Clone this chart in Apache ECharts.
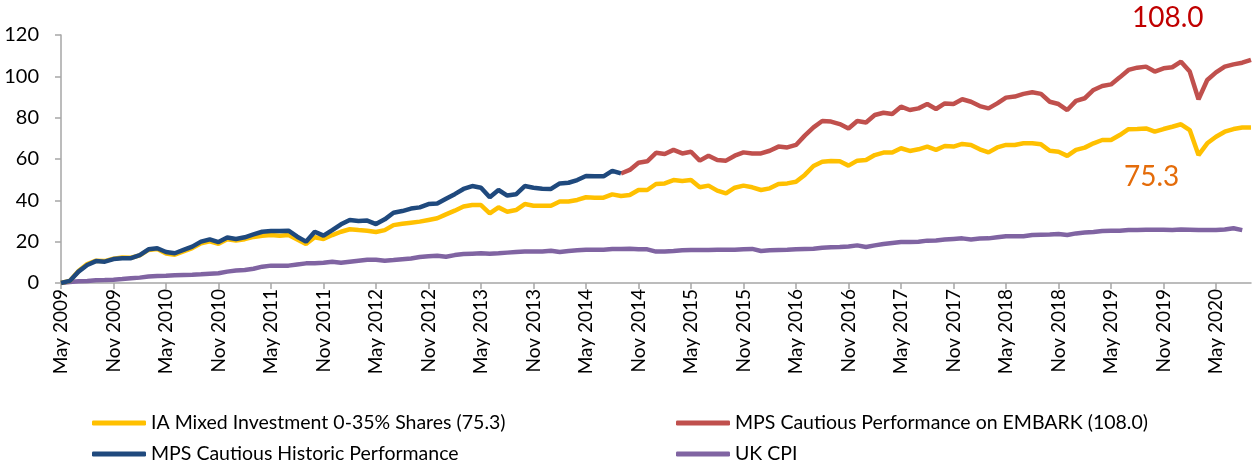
<!DOCTYPE html>
<html>
<head>
<meta charset="utf-8">
<script src="https://cdn.jsdelivr.net/npm/echarts@6/dist/echarts.min.js"></script>
<style>
html,body{margin:0;padding:0;background:#fff;}
#c{width:1259px;height:464px;}
</style>
</head>
<body>
<div id="c"></div>
<script>
// Monthly categories May 2009 .. Sep 2020
var monthNames = ['Jan','Feb','Mar','Apr','May','Jun','Jul','Aug','Sep','Oct','Nov','Dec'];
var categories = [];
(function(){ var y=2009, m=4; while(!(y===2020 && m===9)){ categories.push(monthNames[m]+' '+y); m++; if(m===12){m=0;y++;} } })();

var yTicks = [0,20,40,60,80,100,120];

var iaMixed = [
0,1,5.8,9.2,10.8,10.6,11.8,12.3,12.2,13.4,16,16.4,14.3,13.7,15.3,16.9,19.2,20.2,19,21.2,20.6,21.2,22.3,22.9,
23.2,22.9,23.2,21.1,18.9,22.1,21.3,23.2,24.8,26,25.6,25.3,24.7,25.6,28,28.7,29.2,29.7,30.5,31.3,33.2,35,37,
37.7,37.7,33.7,36.6,34.5,35.3,38.2,37.4,37.4,37.4,39.4,39.4,40.2,41.5,41.3,41.3,42.9,42.1,42.6,45,45,47.9,48.2,
49.8,49.4,49.8,46.3,47.1,44.7,43.4,46.1,47.1,46.3,45,45.8,47.9,48.2,49,52.3,56.6,58.7,59,58.9,56.8,59.2,59.5,
61.9,63.1,63.1,65.2,63.9,64.7,66,64.4,66.3,66,67.3,66.8,64.7,63.2,65.6,66.8,66.8,67.6,67.6,67.1,64,63.5,61.5,
64.4,65.5,67.6,69.2,69.2,71.6,74.4,74.5,74.8,73.2,74.5,75.6,76.8,74,61.9,67.6,70.8,73.2,74.5,75.2,75.3
];

var mpsHistoric = [
0,1,5.5,8.7,10.6,10.3,11.6,12,12,13.5,16.3,16.8,15,14.4,16,17.6,20,21.1,19.8,22,21.3,22.1,23.5,24.8,
25.2,25.2,25.3,22.4,20,24.8,22.9,25.6,28.4,30.5,30,30.2,28.5,30.8,34,34.8,36,36.6,38.2,38.5,40.8,43,45.5,
46.9,46.1,41.5,45,42.3,42.9,46.9,46.1,45.6,45.5,48.2,48.5,49.8,51.8,51.6,51.6,54.3,53
];

var mpsEmbarkStart = 64;
var mpsEmbark = [
53,54.7,58.2,58.9,63,62.4,64.4,62.7,63.5,59.2,61.6,59.5,59.2,61.6,63.2,62.7,62.7,64,66,65.6,66.8,71.3,75.3,78.4,
78.1,76.9,74.8,78.4,77.7,81.3,82.4,81.8,85.3,83.7,84.5,86.6,84.2,86.9,86.6,88.9,87.7,85.6,84.5,86.9,89.7,90.2,
91.5,92.3,91.5,87.7,86.6,83.7,88.1,89.4,93.4,95.3,96.1,99.5,103.1,104.2,104.7,102.3,103.9,104.4,107.1,102.3,88.9,
98.2,101.9,104.7,105.8,106.6,108.0
];

var ukCpi = [
0,0.5,0.8,1,1.3,1.4,1.6,1.9,2.3,2.6,3.1,3.4,3.5,3.7,3.9,4,4.2,4.5,4.7,5.5,6,6.3,6.9,7.9,
8.4,8.4,8.4,9,9.5,9.6,9.8,10.3,9.8,10.3,10.8,11.3,11.3,10.8,11.1,11.5,11.9,12.6,12.9,13.2,12.7,13.5,14,
14.2,14.4,14.2,14.4,14.7,15,15.2,15.3,15.2,15.6,15,15.5,15.8,16.1,16.1,16.1,16.5,16.5,16.6,16.3,16.3,15.2,15.3,
15.5,15.8,16,16,16,16.1,16.1,16.1,16.3,16.5,15.5,15.8,16,16.1,16.3,16.5,16.6,17.1,17.3,17.4,17.7,18.2,17.4,
18.2,18.9,19.4,19.8,19.8,20,20.5,20.6,21,21.3,21.6,21.1,21.5,21.6,22.1,22.6,22.6,22.6,23.2,23.4,23.5,23.7,23.2,
24,24.4,24.7,25.2,25.3,25.3,25.6,25.6,25.8,25.8,25.8,25.6,25.9,25.8,25.6,25.6,25.6,25.9,26.5,25.6
];

var names = {
  ia: 'IA Mixed Investment 0-35% Shares (75.3)',
  emb: 'MPS Cautious Performance on EMBARK (108.0)',
  hist: 'MPS Cautious Historic Performance',
  cpi: 'UK CPI'
};
var labelEmbark = '108.0';
var labelIa = '75.3';

function pad(arr, start, total){
  var out = [];
  for (var i=0;i<total;i++){
    var j = i-start;
    out.push(j>=0 && j<arr.length ? arr[j] : null);
  }
  return out;
}
var N = categories.length;

var FONT = 'Lato';
var chart = echarts.init(document.getElementById('c'), null, {renderer:'canvas'});
var legendText = {color:'#000', fontSize:19.5, fontFamily:FONT, lineHeight:24};
function leg(left, top, name){
  return {orient:'horizontal', left:left, top:top, padding:0, itemWidth:54, itemHeight:5, itemGap:0,
    icon:'roundRect', textStyle:legendText, data:[name]};
}
var LW = 4.5;
chart.setOption({
  animation:false,
  backgroundColor:'#fff',
  grid:{left:61, right:8, top:35, bottom:181, containLabel:false},
  xAxis:{
    type:'category', data:categories, boundaryGap:false,
    axisLine:{lineStyle:{color:'#A6A6A6', width:1.5}},
    axisTick:{show:true, interval:5, length:6, lineStyle:{color:'#A6A6A6', width:1.5}},
    axisLabel:{interval:5, rotate:90, color:'#000', fontSize:19, fontFamily:FONT, margin:6}
  },
  yAxis:{
    type:'value', min:0, max:120, interval:20,
    splitLine:{show:false},
    axisLine:{show:true, lineStyle:{color:'#A6A6A6', width:1.5}},
    axisTick:{show:true, length:6, lineStyle:{color:'#A6A6A6', width:1.5}},
    axisLabel:{color:'#000', fontSize:20, fontFamily:FONT, margin:22,
      formatter:function(v){ return yTicks.indexOf(v)>=0 ? String(v) : ''; }}
  },
  legend:[
    leg(92, 411, names.ia),
    leg(676, 411, names.emb),
    leg(92, 442, names.hist),
    leg(676, 442, names.cpi)
  ],
  series:[
    {name:names.cpi, type:'line', data:pad(ukCpi,0,N), showSymbol:false, symbol:'none', z:1,
     lineStyle:{color:'#8064A2', width:LW}, itemStyle:{color:'#8064A2'}},
    {name:names.ia, type:'line', data:pad(iaMixed,0,N), showSymbol:false, symbol:'none', z:2,
     lineStyle:{color:'#FFC000', width:LW}, itemStyle:{color:'#FFC000'}},
    {name:names.emb, type:'line', data:pad(mpsEmbark,mpsEmbarkStart,N), showSymbol:false, symbol:'none', z:3,
     lineStyle:{color:'#C0504D', width:LW}, itemStyle:{color:'#C0504D'}},
    {name:names.hist, type:'line', data:pad(mpsHistoric,0,N), showSymbol:false, symbol:'none', z:4,
     lineStyle:{color:'#1F497D', width:LW}, itemStyle:{color:'#1F497D'}}
  ],
  graphic:[
    {type:'text', left:1132, top:4, style:{text:labelEmbark, fill:'#C00000', fontSize:28, fontFamily:FONT}},
    {type:'text', left:1124, top:163, style:{text:labelIa, fill:'#E46C0A', fontSize:28, fontFamily:FONT}}
  ]
});
</script>
</body>
</html>
